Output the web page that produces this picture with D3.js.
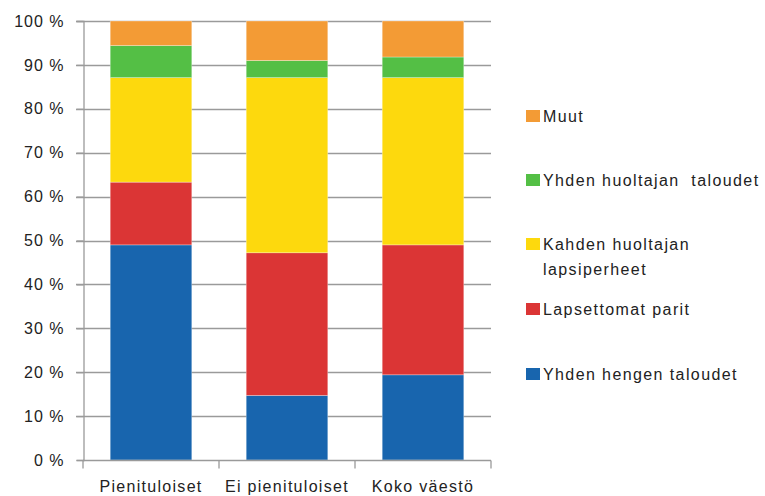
<!DOCTYPE html>
<html>
<head>
<meta charset="utf-8">
<script src="https://cdn.jsdelivr.net/npm/d3@7"></script>
<style>
  body { margin: 0; background: #fff; }
  text { font-family: "Liberation Sans", Arial, sans-serif; fill: #222; }
</style>
</head>
<body>
<div id="chart"></div>
<script>
const categories = ["Pienituloiset", "Ei pienituloiset", "Koko väestö"];
const seriesNames = [
  "Yhden hengen taloudet",
  "Lapsettomat parit",
  "Kahden huoltajan lapsiperheet",
  "Yhden huoltajan taloudet",
  "Muut",
];
const seriesColors = ["#1865ae", "#db3535", "#fdd90d", "#54bf45", "#f39b35"];
// values per series, one per category (percent)
const yhdenHengen = [49.0, 14.7, 19.4];
const lapsettomat = [14.3, 32.5, 29.6];
const kahdenHuoltajan = [23.8, 39.9, 38.1];
const yhdenHuoltajan = [7.3, 3.9, 4.7];
const muut = [5.6, 9.0, 8.2];
const yTicks = [0, 10, 20, 30, 40, 50, 60, 70, 80, 90, 100];

const seriesValues = [yhdenHengen, lapsettomat, kahdenHuoltajan, yhdenHuoltajan, muut];
const legendLines = [
  ["Muut"],
  ["Yhden huoltajan  taloudet"],
  ["Kahden huoltajan", "lapsiperheet"],
  ["Lapsettomat parit"],
  ["Yhden hengen taloudet"],
];

const W = 765, H = 496;
const plot = { left: 83, right: 491, top: 21, bottom: 460 };

const svg = d3.select("#chart").append("svg")
  .attr("width", W).attr("height", H);

const table = categories.map((c, i) => {
  const row = { category: c };
  seriesNames.forEach((s, j) => (row[s] = seriesValues[j][i]));
  return row;
});
const stacked = d3.stack().keys(seriesNames)(table);

const x = d3.scaleBand().domain(categories)
  .range([plot.left, plot.right]).paddingInner(0.4).paddingOuter(0.2);
const y = d3.scaleLinear().domain([0, 100]).range([plot.bottom, plot.top]);

// gridlines
svg.append("g")
  .selectAll("line")
  .data(yTicks.filter((d) => d > 0))
  .join("line")
  .attr("x1", plot.left - 7).attr("x2", plot.right)
  .attr("y1", (d) => Math.round(y(d)) + 0.5).attr("y2", (d) => Math.round(y(d)) + 0.5)
  .attr("stroke", "#9a9a9a").attr("stroke-width", 1.3);

// bars
svg.append("g")
  .selectAll("g")
  .data(stacked)
  .join("g")
  .attr("fill", (d, i) => seriesColors[i])
  .selectAll("rect")
  .data((d) => d)
  .join("rect")
  .attr("x", (d) => x(d.data.category))
  .attr("width", x.bandwidth())
  .attr("y", (d) => y(d[1]))
  .attr("height", (d) => y(d[0]) - y(d[1]))
  .attr("stroke", "rgba(255,255,255,0.5)")
  .attr("stroke-width", 0.6);

// y axis
const yAxis = svg.append("g")
  .attr("transform", `translate(${plot.left + 0.5},0)`)
  .call(d3.axisLeft(y).tickValues(yTicks).tickSize(7).tickPadding(12)
    .tickFormat((d) => d + " %"));
yAxis.select(".domain").attr("stroke", "#9a9a9a").attr("stroke-width", 1.3);
yAxis.selectAll(".tick line").attr("stroke", "#9a9a9a").attr("stroke-width", 1.3);
yAxis.selectAll(".tick text")
  .attr("font-size", 16).attr("letter-spacing", 1).attr("fill", "#222")
  .style("font-family", "'Liberation Sans', Arial, sans-serif");

// x axis
const xAxis = svg.append("g")
  .attr("transform", `translate(0,${plot.bottom + 0.5})`);
xAxis.append("line")
  .attr("x1", plot.left).attr("x2", plot.right)
  .attr("stroke", "#9a9a9a").attr("stroke-width", 1.3);
const xEdges = categories.map((c) => x(c) - x.step() * x.paddingInner() / 2);
xEdges.push(plot.right);
xAxis.selectAll(".xt")
  .data(xEdges)
  .join("line")
  .attr("x1", (d) => d).attr("x2", (d) => d)
  .attr("y1", 0).attr("y2", 8)
  .attr("stroke", "#9a9a9a").attr("stroke-width", 1.3);
xAxis.selectAll(".xl")
  .data(categories)
  .join("text")
  .attr("x", (d) => x(d) + x.bandwidth() / 2)
  .attr("y", 31)
  .attr("text-anchor", "middle")
  .attr("font-size", 16)
  .attr("letter-spacing", 1.3)
  .text((d) => d);

// legend
const legendY = [116, 180, 244, 309, 374];
const legendColors = seriesColors.slice().reverse();
const legend = svg.append("g");
legendLines.forEach((lines, i) => {
  const g = legend.append("g").attr("transform", `translate(526,${legendY[i]})`);
  g.append("rect")
    .attr("x", 0).attr("y", -6).attr("width", 14).attr("height", 12)
    .attr("fill", legendColors[i]);
  lines.forEach((t, k) => {
    g.append("text")
      .attr("x", 17).attr("y", 6 + k * 25)
      .attr("font-size", 16)
      .attr("letter-spacing", 1.4)
      .style("white-space", "pre")
      .text(t);
  });
});
</script>
</body>
</html>
